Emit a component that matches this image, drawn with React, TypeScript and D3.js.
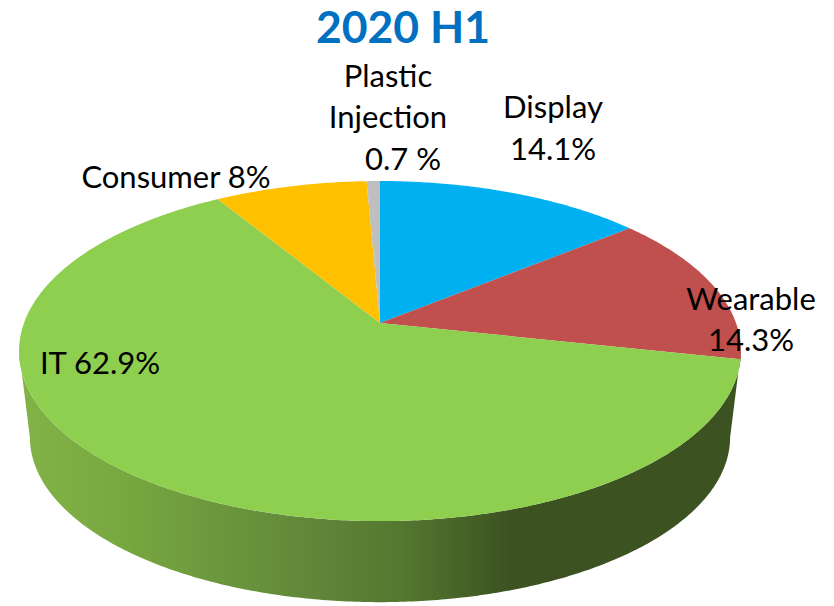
import React from "react";
import * as d3 from "d3";

const categories = ["Display", "Wearable", "IT", "Consumer", "Plastic Injection"];
const values = [14.1, 14.3, 62.9, 8, 0.7];
const colors = ["#00b0f0", "#c0504d", "#8ecf50", "#ffc000", "#bfbfbf"];
const title = "2020 H1";
const labelLines = [
  { lines: ["Plastic"], x: 388, y: 87 },
  { lines: ["Injection"], x: 388, y: 128 },
  { lines: ["0.7 %"], x: 403, y: 170 },
  { lines: ["Display"], x: 553, y: 118 },
  { lines: ["14.1%"], x: 553, y: 160 },
  { lines: ["Wearable"], x: 751, y: 310 },
  { lines: ["14.3%"], x: 751, y: 351 },
  { lines: ["Consumer 8%"], x: 176, y: 188 },
  { lines: ["IT 62.9%"], x: 100, y: 374 },
];
const wallStops = [
  { x: 20, c: "#82b347" },
  { x: 120, c: "#78a840" },
  { x: 300, c: "#62893a" },
  { x: 400, c: "#547830" },
  { x: 510, c: "#3c5321" },
  { x: 741, c: "#3c5321" },
];

// perspective view of the flat disc
const cx = 380, apexY = 323, R = 356, A = 165.4, K = -0.165;
const bottomApexY = 410, bottomScale = 0.97;
const project = (a: number, r = 1, ay = apexY, s = 1): [number, number] => {
  const u = Math.sin(a) * r, v = -Math.cos(a) * r;
  const d = 1 + K * v;
  return [cx + (s * R * u) / d, ay + (s * A * v) / d];
};
const line = d3.line();
const sample = (a0: number, a1: number) => {
  const n = Math.max(2, Math.ceil(Math.abs(a1 - a0) / 0.01));
  return d3.range(n + 1).map((i) => a0 + ((a1 - a0) * i) / n);
};

export default function App() {
  const arcs = d3.pie<number>().sort(null).value((d) => d)(values);
  const wallRight = Math.acos(K), wallLeft = 2 * Math.PI - wallRight;
  const top = sample(wallRight, wallLeft).map((a) => project(a));
  const bottom = sample(wallLeft, wallRight).map((a) => project(a, 1, bottomApexY, bottomScale));
  const xScale = d3.scaleLinear().domain([20, 741]).range([0, 100]);
  return (
    <svg width={834} height={606} style={{ position: "absolute", left: 0, top: 0, background: "#fff" }}>
      <defs>
        <linearGradient id="wall" x1="20" x2="741" y1="0" y2="0" gradientUnits="userSpaceOnUse">
          {wallStops.map((s) => (
            <stop key={s.x} offset={`${xScale(s.x)}%`} stopColor={s.c} />
          ))}
        </linearGradient>
      </defs>
      <path d={line([...top, ...bottom]) + "Z"} fill="url(#wall)" />
      {arcs.map((d, i) => (
        <path
          key={categories[i]}
          d={line([project(0, 0), ...sample(d.startAngle, d.endAngle).map((a) => project(a))]) + "Z"}
          fill={colors[i]}
        />
      ))}
      <text x={403} y={43} textAnchor="middle" fontFamily="Lato" fontWeight={700} fontSize={44.5} fill="#0070c0">
        {title}
      </text>
      {labelLines.map((l) => (
        <text key={l.lines[0]} x={l.x} y={l.y} textAnchor="middle" fontFamily="Lato" fontSize={31} fill="#000">
          {l.lines[0]}
        </text>
      ))}
    </svg>
  );
}
